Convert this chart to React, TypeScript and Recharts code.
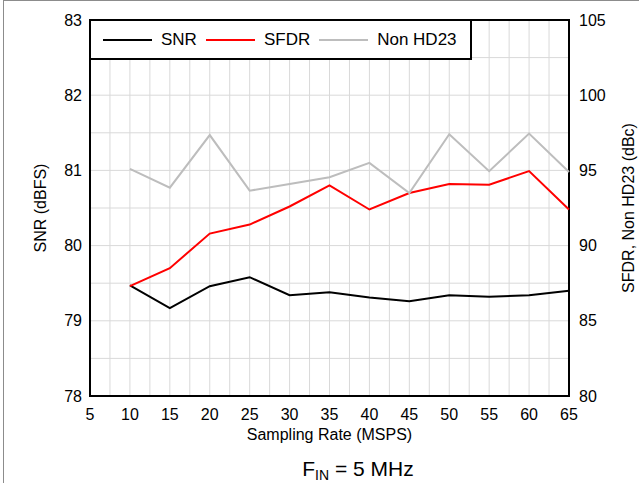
import { LineChart, Line, XAxis, YAxis, CartesianGrid, ReferenceArea } from 'recharts';

// sampling rate (MSPS)
const RATES = [10, 15, 20, 25, 30, 35, 40, 45, 50, 55, 60, 65];
// SNR in dBFS (left axis)
const SNR = [79.47, 79.17, 79.46, 79.58, 79.34, 79.38, 79.31, 79.26, 79.34, 79.32, 79.34, 79.4];
// SFDR in dBc (right axis)
const SFDR = [87.3, 88.5, 90.8, 91.4, 92.6, 94.0, 92.4, 93.5, 94.1, 94.05, 94.95, 92.4];
// Non HD23 in dBc (right axis)
const NON_HD23 = [95.1, 93.85, 97.35, 93.65, 94.1, 94.55, 95.5, 93.5, 97.4, 94.95, 97.45, 94.9];

const X_TICKS = [5, 7.5, 10, 12.5, 15, 17.5, 20, 22.5, 25, 27.5, 30, 32.5, 35, 37.5, 40, 42.5, 45, 47.5, 50, 52.5, 55, 57.5, 60, 62.5, 65];
const SNR_TICKS = [78, 78.5, 79, 79.5, 80, 80.5, 81, 81.5, 82, 82.5, 83];
const DBC_TICKS = [80, 85, 90, 95, 100, 105];

const SERIES = [
    { key: 'snr', name: 'SNR', color: '#000000', axis: 'left' },
    { key: 'sfdr', name: 'SFDR', color: '#ff0000', axis: 'right' },
    { key: 'nonhd23', name: 'Non HD23', color: '#bdbdbd', axis: 'right' },
];

const data = RATES.map((rate, i) => ({
    rate,
    snr: SNR[i],
    sfdr: SFDR[i],
    nonhd23: NON_HD23[i],
}));

const FONT = '"Liberation Sans", Arial, sans-serif';
const tickStyle = { fill: '#000', fontSize: 16, fontFamily: FONT };

// only label whole ticks, the in-between ones are just for the grid
const wholeOnly = (v: number) => (v % 5 === 0 ? String(v) : '');
const intOnly = (v: number) => (Number.isInteger(v) ? String(v) : '');

export default function App() {
    return (
        <div style={{ position: 'absolute', left: 0, top: 0, width: 639, height: 483, background: '#fff', fontFamily: FONT, overflow: 'hidden' }}>
            {/* outer frame */}
            <div style={{ position: 'absolute', left: 3, top: 0, width: 636, height: 483, borderLeft: '1px solid #8c8c8c', borderTop: '1px solid #8c8c8c' }} />
            <LineChart width={639} height={483} data={data} margin={{ top: 20, right: 10, bottom: 57, left: 30 }}>
                <CartesianGrid yAxisId="left" stroke="#d9d9d9" strokeWidth={1} />
                <XAxis
                    dataKey="rate"
                    type="number"
                    domain={[5, 65]}
                    ticks={X_TICKS}
                    interval={0}
                    tickFormatter={wholeOnly}
                    tick={tickStyle}
                    tickLine={false}
                    axisLine={false}
                    tickMargin={7}
                    height={30}
                    label={(props: any) => {
                        const vb = props.viewBox;
                        return (
                            <text x={vb.x + vb.width / 2} y={vb.y + 44} textAnchor="middle" fontSize={16} fontFamily={FONT} fill="#000">
                                Sampling Rate (MSPS)
                            </text>
                        );
                    }}
                />
                <YAxis
                    yAxisId="left"
                    domain={[78, 83]}
                    ticks={SNR_TICKS}
                    interval={0}
                    tickFormatter={intOnly}
                    tick={tickStyle}
                    tickLine={false}
                    axisLine={false}
                    width={60}
                    label={(props: any) => {
                        const vb = props.viewBox;
                        const cx = 40;
                        const cy = vb.y + vb.height / 2;
                        return (
                            <text x={cx} y={cy} transform={`rotate(-90, ${cx}, ${cy})`} textAnchor="middle" dominantBaseline="central" fontSize={16} fontFamily={FONT} fill="#000">
                                SNR (dBFS)
                            </text>
                        );
                    }}
                />
                <YAxis
                    yAxisId="right"
                    orientation="right"
                    domain={[80, 105]}
                    ticks={DBC_TICKS}
                    interval={0}
                    tick={tickStyle}
                    tickLine={false}
                    axisLine={false}
                    tickMargin={4}
                    width={60}
                    label={(props: any) => {
                        const vb = props.viewBox;
                        const cx = 628;
                        const cy = vb.y + vb.height / 2;
                        return (
                            <text x={cx} y={cy} transform={`rotate(-90, ${cx}, ${cy})`} textAnchor="middle" dominantBaseline="central" fontSize={16} fontFamily={FONT} fill="#000">
                                SFDR, Non HD23 (dBc)
                            </text>
                        );
                    }}
                />
                {SERIES.map((s) => (
                    <Line
                        key={s.key}
                        yAxisId={s.axis}
                        dataKey={s.key}
                        name={s.name}
                        type="linear"
                        stroke={s.color}
                        strokeWidth={2}
                        dot={false}
                        activeDot={false}
                        isAnimationActive={false}
                    />
                ))}
                <ReferenceArea yAxisId="left" x1={5} x2={65} y1={78} y2={83} fill="none" stroke="#000" strokeWidth={2} ifOverflow="visible" />
            </LineChart>
            {/* legend box sits on the top-left corner of the plot */}
            <div
                style={{
                    position: 'absolute',
                    left: 89,
                    top: 19,
                    width: 383,
                    height: 41,
                    boxSizing: 'border-box',
                    border: '2px solid #000',
                    background: '#fff',
                    display: 'flex',
                    alignItems: 'center',
                    paddingLeft: 12,
                    fontSize: 17,
                }}
            >
                {SERIES.map((s) => (
                    <div key={s.key} style={{ display: 'flex', alignItems: 'center', marginRight: 9 }}>
                        <span style={{ display: 'inline-block', width: 49, height: 2, background: s.color, marginRight: 9 }} />
                        <span>{s.name}</span>
                    </div>
                ))}
            </div>
            <div style={{ position: 'absolute', left: 0, width: 716, top: 457, lineHeight: '24px', textAlign: 'center', fontSize: 21 }}>
                F<span style={{ fontSize: 14, verticalAlign: '-4px', lineHeight: 0 }}>IN</span> = 5 MHz
            </div>
        </div>
    );
}
